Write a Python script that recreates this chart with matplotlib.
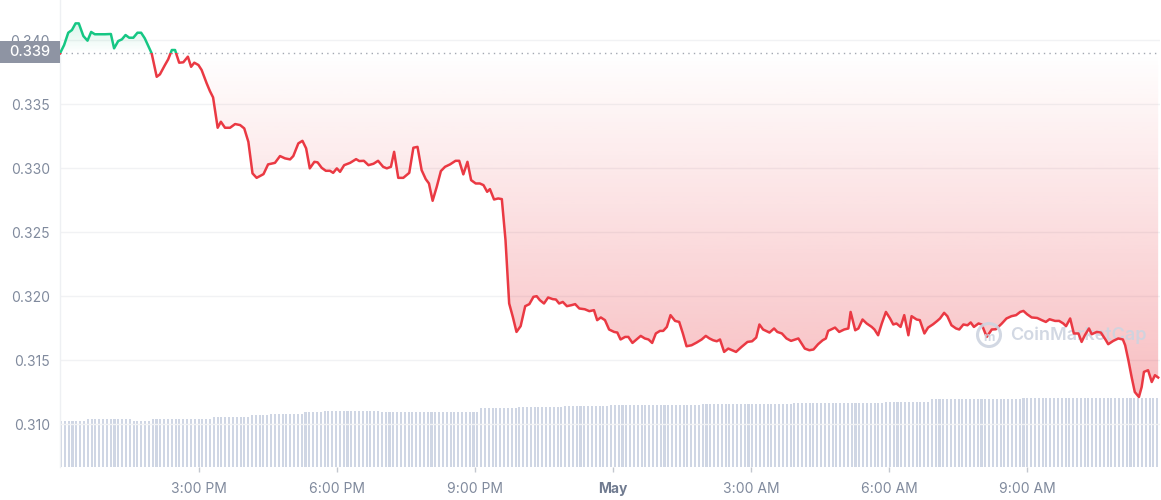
import numpy as np
import matplotlib
matplotlib.use("Agg")
import matplotlib.pyplot as plt
from matplotlib.path import Path
from matplotlib.patches import Rectangle, Circle
from matplotlib.colors import to_rgb
import matplotlib.transforms as mtransforms
from matplotlib.ticker import FormatStrFormatter

# ---------------- data ----------------
# hours after chart start (~12:00 PM, 30 Apr)
hours = [
    0.00, 0.09, 0.18, 0.26, 0.34, 0.41, 0.51, 0.60, 0.68, 0.76,
    0.98, 1.11, 1.18, 1.27, 1.35, 1.43, 1.51, 1.60, 1.69, 1.77,
    1.85, 2.00, 2.11, 2.18, 2.29, 2.36, 2.44, 2.51, 2.60, 2.69,
    2.79, 2.86, 2.93, 3.02, 3.09, 3.20, 3.27, 3.34, 3.44, 3.51,
    3.60, 3.71, 3.82, 3.93, 4.02, 4.11, 4.20, 4.29, 4.44, 4.54,
    4.69, 4.80, 4.91, 5.02, 5.09, 5.20, 5.29, 5.37, 5.45, 5.55,
    5.62, 5.71, 5.80, 5.89, 5.96, 6.04, 6.11, 6.20, 6.33, 6.46,
    6.53, 6.63, 6.73, 6.84, 6.94, 7.05, 7.13, 7.22, 7.29, 7.38,
    7.49, 7.62, 7.71, 7.80, 7.89, 7.98, 8.05, 8.13, 8.22, 8.31,
    8.40, 8.51, 8.63, 8.71, 8.80, 8.89, 8.97, 9.07, 9.16, 9.24,
    9.32, 9.38, 9.47, 9.56, 9.64, 9.72, 9.80, 9.88, 9.96, 10.05,
    10.15, 10.24, 10.33, 10.40, 10.47, 10.56, 10.65, 10.75, 10.82, 10.89,
    10.97, 11.06, 11.16, 11.24, 11.33, 11.45, 11.55, 11.65, 11.72, 11.80,
    11.89, 11.98, 12.09, 12.16, 12.23, 12.33, 12.40, 12.49, 12.58, 12.67,
    12.76, 12.84, 12.92, 13.00, 13.09, 13.16, 13.24, 13.32, 13.42, 13.51,
    13.59, 13.67, 13.78, 13.89, 14.00, 14.09, 14.17, 14.25, 14.33, 14.40,
    14.49, 14.58, 14.75, 14.87, 15.00, 15.10, 15.19, 15.26, 15.34, 15.48,
    15.58, 15.65, 15.75, 15.85, 15.95, 16.11, 16.25, 16.35, 16.44, 16.54,
    16.64, 16.71, 16.76, 16.91, 17.00, 17.11, 17.20, 17.25, 17.35, 17.42,
    17.51, 17.60, 17.71, 17.77, 17.85, 17.93, 18.02, 18.11, 18.18, 18.25,
    18.34, 18.42, 18.51, 18.58, 18.69, 18.76, 18.86, 18.94, 19.05, 19.14,
    19.20, 19.29, 19.36, 19.45, 19.55, 19.62, 19.71, 19.80, 19.87, 19.94,
    20.04, 20.11, 20.22, 20.33, 20.42, 20.55, 20.65, 20.76, 20.86, 20.95,
    21.02, 21.10, 21.20, 21.32, 21.42, 21.51, 21.59, 21.71, 21.80, 21.89,
    21.95, 22.04, 22.12, 22.22, 22.29, 22.36, 22.45, 22.51, 22.62, 22.71,
    22.82, 22.87, 22.98, 23.09, 23.19, 23.24, 23.31, 23.38, 23.45, 23.54,
    23.60, 23.65, 23.74, 23.82, 23.89, 23.96,
]

price = [
    0.33896, 0.33961, 0.34057, 0.34078, 0.34130, 0.34130, 0.34031, 0.33995, 0.34063, 0.34045,
    0.34045, 0.34047, 0.33935, 0.33992, 0.34005, 0.34039, 0.34018, 0.34018, 0.34057, 0.34057,
    0.34013, 0.33896, 0.33713, 0.33732, 0.33805, 0.33849, 0.33922, 0.33922, 0.33823, 0.33826,
    0.33870, 0.33791, 0.33823, 0.33805, 0.33766, 0.33662, 0.33602, 0.33552, 0.33315, 0.33362,
    0.33315, 0.33315, 0.33344, 0.33336, 0.33310, 0.33205, 0.32959, 0.32924, 0.32953, 0.33029,
    0.33041, 0.33094, 0.33076, 0.33068, 0.33094, 0.33193, 0.33213, 0.33154, 0.32998, 0.33049,
    0.33045, 0.33002, 0.32979, 0.32979, 0.32963, 0.32998, 0.32971, 0.33023, 0.33041, 0.33070,
    0.33055, 0.33057, 0.33023, 0.33034, 0.33057, 0.33010, 0.32998, 0.33010, 0.33127, 0.32924,
    0.32924, 0.32963, 0.33159, 0.33166, 0.32984, 0.32914, 0.32880, 0.32745, 0.32854, 0.32977,
    0.33010, 0.33029, 0.33057, 0.33057, 0.32951, 0.33049, 0.32906, 0.32880, 0.32880, 0.32867,
    0.32815, 0.32836, 0.32755, 0.32763, 0.32758, 0.32438, 0.31943, 0.31838, 0.31721, 0.31766,
    0.31922, 0.31938, 0.31995, 0.32000, 0.31969, 0.31943, 0.31990, 0.31977, 0.31974, 0.31943,
    0.31955, 0.31922, 0.31930, 0.31938, 0.31904, 0.31898, 0.31883, 0.31891, 0.31813, 0.31834,
    0.31813, 0.31740, 0.31721, 0.31716, 0.31662, 0.31682, 0.31682, 0.31635, 0.31662, 0.31690,
    0.31670, 0.31662, 0.31635, 0.31709, 0.31729, 0.31729, 0.31760, 0.31852, 0.31807, 0.31799,
    0.31709, 0.31609, 0.31617, 0.31638, 0.31662, 0.31690, 0.31670, 0.31656, 0.31648, 0.31662,
    0.31565, 0.31591, 0.31565, 0.31604, 0.31643, 0.31648, 0.31677, 0.31779, 0.31740, 0.31716,
    0.31748, 0.31721, 0.31709, 0.31670, 0.31651, 0.31670, 0.31591, 0.31578, 0.31584, 0.31625,
    0.31656, 0.31670, 0.31729, 0.31755, 0.31721, 0.31740, 0.31748, 0.31877, 0.31734, 0.31748,
    0.31818, 0.31787, 0.31760, 0.31740, 0.31695, 0.31787, 0.31877, 0.31826, 0.31779, 0.31787,
    0.31760, 0.31852, 0.31695, 0.31844, 0.31818, 0.31813, 0.31709, 0.31755, 0.31781, 0.31807,
    0.31826, 0.31870, 0.31844, 0.31773, 0.31748, 0.31740, 0.31779, 0.31773, 0.31795, 0.31760,
    0.31787, 0.31779, 0.31682, 0.31740, 0.31742, 0.31787, 0.31826, 0.31844, 0.31852, 0.31877,
    0.31885, 0.31859, 0.31834, 0.31830, 0.31813, 0.31799, 0.31820, 0.31807, 0.31807, 0.31787,
    0.31766, 0.31826, 0.31709, 0.31709, 0.31643, 0.31695, 0.31748, 0.31703, 0.31721, 0.31716,
    0.31656, 0.31625, 0.31651, 0.31670, 0.31662, 0.31617, 0.31500, 0.31370, 0.31252, 0.31213,
    0.31291, 0.31409, 0.31422, 0.31330, 0.31383, 0.31365,
]

# 5-minute volume bars (relative units), one row per hour
volume = [
    46.3, 46.3, 46.3, 46.3, 46.3, 46.3, 46.3, 47.7, 47.7, 47.7, 47.7, 47.7,
    47.7, 47.7, 47.7, 47.7, 47.7, 47.7, 47.7, 46.3, 46.3, 46.3, 46.3, 46.3,
    47.7, 47.7, 47.7, 47.7, 47.7, 47.7, 47.7, 47.7, 47.7, 47.7, 47.7, 47.7,
    47.7, 47.7, 47.7, 47.7, 49.7, 49.7, 49.7, 49.7, 49.7, 49.7, 49.7, 49.7,
    49.7, 49.7, 51.7, 51.7, 51.7, 51.7, 51.7, 53.0, 53.0, 53.0, 53.0, 53.0,
    53.0, 53.0, 53.0, 53.0, 54.7, 54.7, 54.7, 54.7, 54.7, 55.7, 55.7, 55.7,
    55.7, 55.7, 55.7, 55.7, 55.7, 55.7, 55.7, 55.7, 55.7, 55.7, 55.7, 55.7,
    54.7, 54.7, 54.7, 54.7, 54.7, 54.7, 54.7, 54.7, 54.7, 54.7, 54.7, 54.7,
    54.7, 54.7, 54.7, 54.7, 54.7, 54.7, 54.7, 54.7, 54.7, 54.7, 54.7, 54.7,
    54.7, 54.7, 59.5, 59.5, 59.5, 59.5, 59.5, 59.5, 59.5, 59.5, 59.5, 59.5,
    60.0, 60.0, 60.0, 60.0, 60.0, 60.0, 60.0, 60.0, 60.0, 60.0, 60.0, 60.0,
    61.0, 61.0, 61.0, 61.0, 61.0, 61.0, 61.0, 61.0, 61.0, 61.0, 61.0, 61.0,
    62.0, 62.0, 62.0, 62.0, 62.0, 62.0, 62.0, 62.0, 62.0, 62.0, 62.0, 62.0,
    62.5, 62.5, 62.5, 62.5, 62.5, 62.5, 62.5, 62.5, 62.5, 62.5, 62.5, 62.5,
    63.0, 63.0, 63.0, 63.0, 63.0, 63.0, 63.0, 63.0, 63.0, 63.0, 63.0, 63.0,
    63.5, 63.5, 63.5, 63.5, 63.5, 63.5, 63.5, 63.5, 63.5, 63.5, 63.5, 63.5,
    64.0, 64.0, 64.0, 64.0, 64.0, 64.0, 64.0, 64.0, 64.0, 64.0, 64.0, 64.0,
    64.5, 64.5, 64.5, 64.5, 64.5, 64.5, 64.5, 64.5, 64.5, 64.5, 64.5, 64.5,
    65.5, 65.5, 65.5, 65.5, 65.5, 65.5, 65.5, 65.5, 65.5, 65.5, 65.5, 65.5,
    68.0, 68.0, 68.0, 68.0, 68.0, 68.0, 68.0, 68.0, 68.0, 68.0, 68.0, 68.0,
    68.5, 68.5, 68.5, 68.5, 68.5, 68.5, 68.5, 68.5, 68.5, 68.5, 68.5, 68.5,
    69.0, 69.0, 69.0, 69.0, 69.0, 69.0, 69.0, 69.0, 69.0, 69.0, 69.0, 69.0,
    69.0, 69.0, 69.0, 69.0, 69.0, 69.0, 69.0, 69.0, 69.0, 69.0, 69.0, 69.0,
    69.5, 69.5, 69.5, 69.5, 69.5, 69.5, 69.5, 69.5, 69.5, 69.5, 69.5, 69.5,
]

open_price = 0.339
y_ticks = [0.310, 0.315, 0.320, 0.325, 0.330, 0.335, 0.340]
x_tick_labels = ["3:00 PM", "6:00 PM", "9:00 PM", "May", "3:00 AM", "6:00 AM", "9:00 AM"]
x_tick_pos = [3.03, 6.04, 9.06, 12.07, 15.08, 18.09, 21.10]

# ---------------- style ----------------
FONT = ["Inter", "DejaVu Sans"]
plt.rcParams["font.family"] = FONT
GREEN = "#16c784"
RED = "#ea3943"
LABEL = "#808a9d"
W, H = 1161, 500

hours_a = np.array(hours)
price_a = np.array(price)
n = min(len(hours_a), len(price_a))
hours_a, price_a = hours_a[:n], price_a[:n]

fig = plt.figure(figsize=(W / 100, H / 100), dpi=100)
fig.patch.set_facecolor("white")
ax = fig.add_axes([60 / W, 33 / H, 1100 / W, 467 / H])
axv = ax.twinx()
ax.set_zorder(2)
axv.set_zorder(1)
ax.patch.set_visible(False)

# volume bars
vol_t = np.arange(len(volume)) * 24.0 / len(volume)
axv.bar(vol_t, volume, width=0.045, align="edge", color="#cfd6e4", linewidth=0)
axv.set_ylim(0, 467)
axv.axis("off")

ax.set_xlim(0, 24)
ax.set_ylim(0.306664, 0.343125)


def gradient_fill(mask_above, color, a_near_base, a_far, lo, hi):
    if mask_above:
        coll = ax.fill_between(hours_a, price_a, open_price, where=price_a >= open_price,
                               interpolate=True, linewidth=0)
    else:
        coll = ax.fill_between(hours_a, price_a, open_price, where=price_a <= open_price,
                               interpolate=True, linewidth=0)
    paths = coll.get_paths()
    coll.remove()
    comp = Path.make_compound_path(*paths)
    rgba = np.zeros((256, 1, 4))
    rgba[..., :3] = to_rgb(color)
    if mask_above:
        rgba[:, 0, 3] = np.linspace(a_near_base, a_far, 256)
    else:
        rgba[:, 0, 3] = np.linspace(a_far, a_near_base, 256)
    im = ax.imshow(rgba, extent=[0, 24, lo, hi], origin="lower", aspect="auto",
                   interpolation="bilinear", zorder=2)
    im.set_clip_path(comp, transform=ax.transData)


gradient_fill(False, RED, 0.0, 0.33, float(price_a.min()), open_price)
gradient_fill(True, GREEN, 0.0, 0.16, open_price, float(price_a.max()))
ax.set_xlim(0, 24)
ax.set_ylim(0.306664, 0.343125)

# watermark
ax.text(22.21, 0.31695, "CoinMarketCap", ha="center", va="center", fontsize=13,
        fontweight="semibold", color="#cdd4e0", alpha=0.9, zorder=2.5)
fig.patches.append(Circle((9.89, 1.65), 0.115, transform=fig.dpi_scale_trans, fill=False,
                          lw=2.2, edgecolor="#cdd4e0", alpha=0.9, zorder=2.5))
fig.text(9.89 / 11.61, 1.62 / 5.0, "m", ha="center", va="center", fontsize=9,
         fontweight="bold", color="#cdd4e0", alpha=0.9)

# baseline dotted
ax.axhline(open_price, color="#a3a8b2", lw=1.0, ls=(0, (1, 3)), zorder=3)

# price line: green above, red below
la, = ax.plot(hours_a, price_a, color=GREEN, lw=1.8, zorder=4, solid_joinstyle="round")
lb, = ax.plot(hours_a, price_a, color=RED, lw=1.8, zorder=4, solid_joinstyle="round")
clip_above = Rectangle((-1, open_price), 26, 1, transform=ax.transData)
clip_below = Rectangle((-1, -1), 26, 1 + open_price, transform=ax.transData)
la.set_clip_path(clip_above)
lb.set_clip_path(clip_below)

# axes styling
for s in ["top", "right", "bottom"]:
    ax.spines[s].set_visible(False)
ax.spines["left"].set_color("#eef0f3")
ax.spines["left"].set_linewidth(1)
ax.set_yticks(y_ticks)
ax.yaxis.set_major_formatter(FormatStrFormatter("%.3f"))
ax.yaxis.grid(True, color="#f1f2f4", lw=1)
ax.set_axisbelow(True)
ax.tick_params(axis="y", length=0, pad=7.2, labelsize=10, labelcolor=LABEL)
ax.set_xticks(x_tick_pos)
ax.set_xticklabels(x_tick_labels)
ax.tick_params(axis="x", length=3.5, width=1, color="#c3c7cf", pad=7, labelsize=10,
               labelcolor=LABEL)
for lab in ax.get_xticklabels():
    if lab.get_text() == "May":
        lab.set_fontweight("bold")
        lab.set_color("#707b90")

# current/open price box
trans = mtransforms.blended_transform_factory(ax.transAxes, ax.transData)
half = 0.000875
ax.add_patch(Rectangle((-60 / 1100, open_price - half + 0.00005), 60 / 1100, 2 * half,
                       transform=trans, clip_on=False, facecolor="#8e94a3",
                       edgecolor="none", zorder=5))
ax.text(-30 / 1100, open_price + 0.00005, "0.339", transform=trans, ha="center", va="center",
        fontsize=10.5, color="white", fontweight="medium", zorder=6, clip_on=False)

fig.savefig("out.png", dpi=100, facecolor="white")
